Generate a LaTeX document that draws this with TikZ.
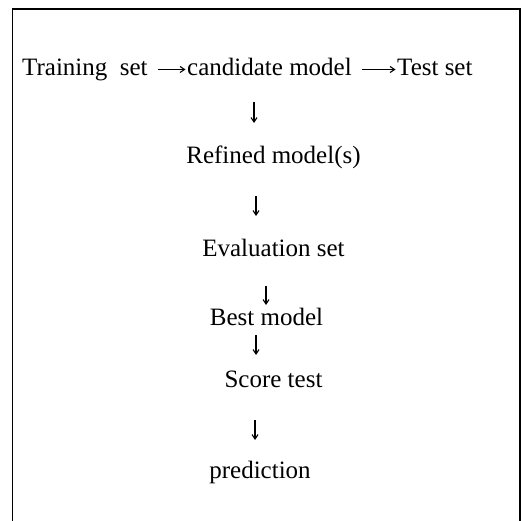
\documentclass[tikz,border=0pt]{standalone}
\usepackage{fontspec}
\setmainfont{Liberation Serif}
\usetikzlibrary{arrows.meta}
\begin{document}
\begin{tikzpicture}[x=1pt,y=-1pt,
  lbl/.style={inner sep=0pt, anchor=base, font=\fontsize{25}{30}\selectfont},
  lblw/.style={lbl, anchor=base west},
  conn/.style={line width=1.2pt, -{Straight Barb[length=4.5pt,width=6pt,line width=1.1pt]}},
  frame/.style={line width=1.6pt, black}]
\useasboundingbox (0,0) rectangle (521,521);
\draw[frame] (12.5,521) -- (12.5,9) -- (520,9) -- (520,521);
% first line
\node[lblw] (t1) at (22,76) {Training\ \ set};
\node[lblw] (t2) at (187,76) {candidate model};
\node[lblw] (t3) at (397,76) {Test set};
\draw[conn] ([xshift=10pt,yshift=6.5pt]t1.base east) -- ([xshift=-1.5pt,yshift=6.5pt]t2.base west);
\draw[conn] ([xshift=10pt,yshift=6.5pt]t2.base east) -- ([xshift=-1.5pt,yshift=6.5pt]t3.base west);
% column
\node[lbl] (l2) at (273.5,164) {Refined model(s)};
\node[lbl] (l3) at (273.5,256) {Evaluation set};
\node[lbl] (l4) at (266.5,325) {Best model};
\node[lbl] (l5) at (273.5,387) {Score test};
\node[lbl] (l6) at (260,478) {prediction};
\coordinate (a1s) at (254,102); \coordinate (a1e) at (254,123);
\coordinate (a2s) at (256,196); \coordinate (a2e) at (256,216);
\coordinate (a3s) at (266,286); \coordinate (a3e) at (266,305);
\coordinate (a4s) at (256,335); \coordinate (a4e) at (256,355);
\coordinate (a5s) at (255,420); \coordinate (a5e) at (255,440);
\draw[conn] (a1s) -- (a1e);
\draw[conn] (a2s) -- (a2e);
\draw[conn] (a3s) -- (a3e);
\draw[conn] (a4s) -- (a4e);
\draw[conn] (a5s) -- (a5e);
\end{tikzpicture}
\end{document}
